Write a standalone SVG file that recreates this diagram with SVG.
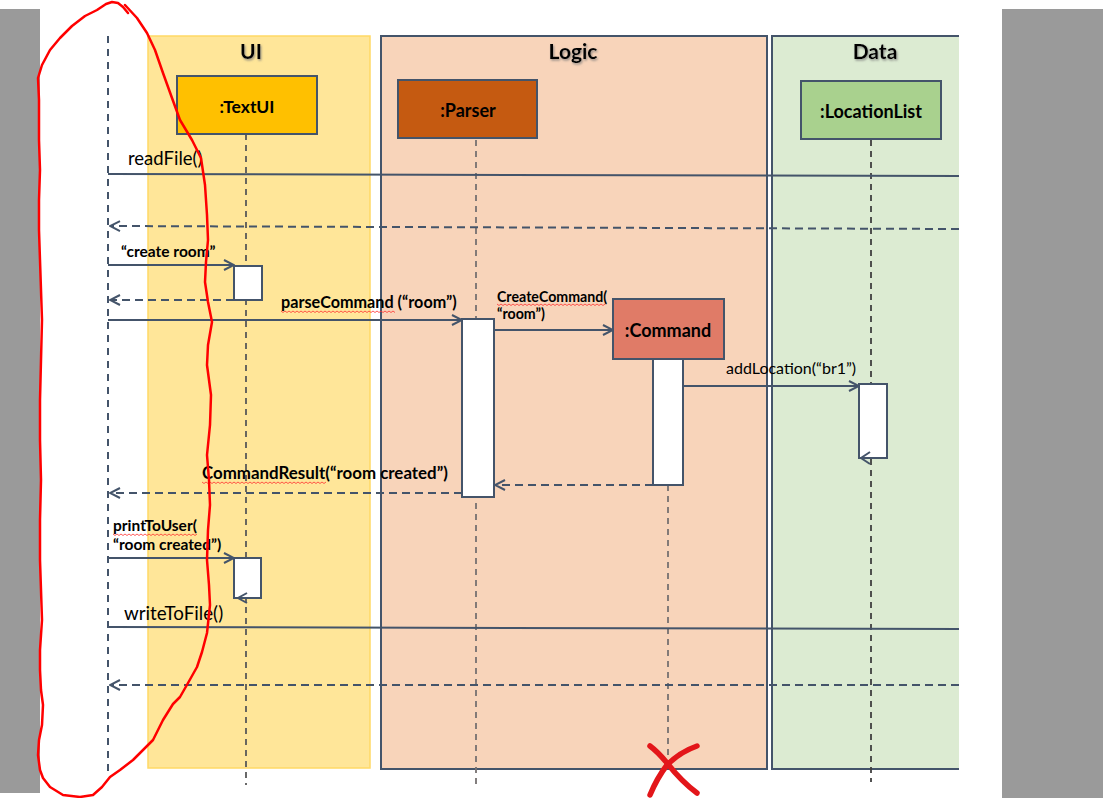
<svg xmlns="http://www.w3.org/2000/svg" width="1103" height="798" viewBox="0 0 1103 798">
<defs>
<style>
.t{font-family:Lato,"Open Sans","Liberation Sans",sans-serif;fill:#000}
.b{font-weight:bold}
.title{font-family:Lato,"Open Sans","Liberation Sans",sans-serif;font-weight:bold;font-size:21px;text-anchor:middle;fill:#000}
.obj{stroke:#44546A;stroke-width:2}
.msg{stroke:#44546A;stroke-width:2;fill:none}
.ret{stroke:#44546A;stroke-width:2;fill:none;stroke-dasharray:8 5}
.life{stroke:#595959;stroke-width:1.8;fill:none;stroke-dasharray:6 5}
.act{fill:#fff;stroke:#44546A;stroke-width:2}
.sq{stroke:#ff3030;stroke-width:0.8;fill:none}
.red{stroke:#ff0000;stroke-width:2.5;fill:none;stroke-linejoin:round;stroke-linecap:round}
</style>
<marker id="arr" viewBox="0 0 12 12" refX="11" refY="6" markerWidth="12" markerHeight="12" markerUnits="userSpaceOnUse" orient="auto">
<path d="M1,1 L11,6 L1,11" fill="none" stroke="#44546A" stroke-width="2"/>
</marker>
<filter id="sh" x="-20%" y="-20%" width="140%" height="140%">
<feDropShadow dx="1" dy="1.5" stdDeviation="1" flood-color="#777" flood-opacity="0.8"/>
</filter>
</defs>
<rect x="0" y="0" width="1103" height="798" fill="#fff"/>
<rect x="0" y="9" width="40" height="784" fill="#9a9a9a"/>
<rect x="1002" y="9" width="101" height="789" fill="#9a9a9a"/>

<g id="lane-ui">
<rect x="148" y="36" width="222" height="732" fill="#FFE699" stroke="#FFD966" stroke-width="1.5"/>
<text class="title" x="251" y="59" filter="url(#sh)">UI</text>
</g>
<g id="lane-logic">
<rect x="381" y="36" width="386" height="733" fill="#F8D4BA" stroke="#44546A" stroke-width="2"/>
<text class="title" x="573" y="59" filter="url(#sh)">Logic</text>
</g>
<g id="lane-data">
<rect x="772" y="36" width="187" height="733" fill="#DCEBD2"/>
<path d="M959,36 H772 V769 H959" fill="none" stroke="#44546A" stroke-width="2"/>
<text class="title" x="875" y="59" filter="url(#sh)">Data</text>
</g>

<g id="lifelines">
<line x1="108" y1="36" x2="108" y2="773" style="stroke:#44546A;stroke-width:2;stroke-dasharray:7 6"/>
<line x1="246" y1="134" x2="246" y2="785" class="life"/>
<line x1="476" y1="140" x2="476" y2="785" class="life" style="stroke:#767171"/>
<line x1="668" y1="485" x2="668" y2="767" class="life" style="stroke:#767171"/>
<line x1="871" y1="140" x2="871" y2="782" class="life" style="stroke:#404040"/>
</g>

<g id="textui">
<rect x="177" y="76" width="140" height="58" fill="#FFC000" class="obj"/>
<text class="t b" x="247" y="113" font-size="17.5" text-anchor="middle">:TextUI</text>
</g>
<g id="parser">
<rect x="398" y="80" width="139" height="58" fill="#C55A11" class="obj"/>
<text class="t b" x="468" y="117" font-size="18" text-anchor="middle">:Parser</text>
</g>
<g id="locationlist">
<rect x="801" y="81" width="140" height="58" fill="#A9D18E" class="obj"/>
<text class="t b" x="871" y="118" font-size="18" text-anchor="middle">:LocationList</text>
</g>
<g id="command">
<rect x="613" y="299" width="111" height="60" fill="#E07B67" class="obj"/>
<text class="t b" x="668" y="337" font-size="18" text-anchor="middle">:Command</text>
</g>

<g id="activations">
<rect x="234" y="266" width="28" height="34" class="act"/>
<rect x="462" y="319" width="32" height="178" class="act"/>
<rect x="653" y="359" width="30" height="126" class="act"/>
<rect x="859" y="384" width="28" height="74" class="act"/>
<rect x="234" y="558" width="27" height="40" class="act"/>
</g>

<g id="connectors">
<line x1="108" y1="174" x2="959" y2="176" class="msg"/>
<line x1="959" y1="229" x2="110" y2="226" class="ret" marker-end="url(#arr)"/>
<line x1="108" y1="265" x2="234" y2="265" class="msg" marker-end="url(#arr)"/>
<line x1="234" y1="300" x2="110" y2="300" class="ret" marker-end="url(#arr)"/>
<line x1="108" y1="320" x2="462" y2="320" class="msg" marker-end="url(#arr)"/>
<line x1="494" y1="330" x2="613" y2="330" class="msg" marker-end="url(#arr)"/>
<line x1="683" y1="386" x2="859" y2="386" class="msg" marker-end="url(#arr)"/>
<path d="M870,452 L861,458 L870,464" class="msg"/>
<line x1="653" y1="485" x2="495" y2="485" class="ret" marker-end="url(#arr)"/>
<line x1="462" y1="493" x2="110" y2="493" class="ret" marker-end="url(#arr)"/>
<line x1="108" y1="558" x2="234" y2="558" class="msg" marker-end="url(#arr)"/>
<path d="M247,593 L238,598 L247,603" class="msg"/>
<line x1="108" y1="627" x2="959" y2="629" class="msg"/>
<line x1="959" y1="685" x2="110" y2="685" class="ret" marker-end="url(#arr)"/>
</g>

<g id="labels">
<text class="t" x="128" y="165" font-size="18.5">readFile()</text>
<text class="t b" x="121" y="257" font-size="15.5">“create room”</text>
<text class="t b" x="281" y="308" font-size="16.2">parseCommand (“room”)</text>
<text class="t b" x="497" y="302" font-size="14.2">CreateCommand(</text>
<text class="t b" x="497" y="319" font-size="14.2">“room”)</text>
<text class="t" x="726" y="374" font-size="16">addLocation(“br1”)</text>
<text class="t b" x="202" y="479" font-size="16.9">CommandResult(“room created”)</text>
<text class="t b" x="113" y="531" font-size="15.5">printToUser(</text>
<text class="t b" x="113" y="550" font-size="15.5">“room created”)</text>
<text class="t" x="124" y="620" font-size="18.8">writeToFile()</text>
<path class="sq" d="M281,311 l2,1.5 l2,-1.5 l2,1.5 l2,-1.5 l2,1.5 l2,-1.5 l2,1.5 l2,-1.5 l2,1.5 l2,-1.5 l2,1.5 l2,-1.5 l2,1.5 l2,-1.5 l2,1.5 l2,-1.5 l2,1.5 l2,-1.5 l2,1.5 l2,-1.5 l2,1.5 l2,-1.5 l2,1.5 l2,-1.5 l2,1.5 l2,-1.5 l2,1.5 l2,-1.5 l2,1.5 l2,-1.5 l2,1.5 l2,-1.5 l2,1.5 l2,-1.5 l2,1.5 l2,-1.5 l2,1.5 l2,-1.5 l2,1.5 l2,-1.5 l2,1.5 l2,-1.5 l2,1.5 l2,-1.5 l2,1.5 l2,-1.5 l2,1.5 l2,-1.5 l2,1.5 l2,-1.5 l2,1.5 l2,-1.5 l2,1.5 l2,-1.5 l2,1.5 l2,-1.5 l2,1.5"/>
<path class="sq" d="M497,304 l2,1.5 l2,-1.5 l2,1.5 l2,-1.5 l2,1.5 l2,-1.5 l2,1.5 l2,-1.5 l2,1.5 l2,-1.5 l2,1.5 l2,-1.5 l2,1.5 l2,-1.5 l2,1.5 l2,-1.5 l2,1.5 l2,-1.5 l2,1.5 l2,-1.5 l2,1.5 l2,-1.5 l2,1.5 l2,-1.5 l2,1.5 l2,-1.5 l2,1.5 l2,-1.5 l2,1.5 l2,-1.5 l2,1.5 l2,-1.5 l2,1.5 l2,-1.5 l2,1.5 l2,-1.5 l2,1.5 l2,-1.5 l2,1.5 l2,-1.5 l2,1.5 l2,-1.5 l2,1.5 l2,-1.5 l2,1.5 l2,-1.5 l2,1.5 l2,-1.5 l2,1.5 l2,-1.5 l2,1.5 l2,-1.5 l2,1.5 l2,-1.5"/>
<path class="sq" d="M202,482 l2,1.5 l2,-1.5 l2,1.5 l2,-1.5 l2,1.5 l2,-1.5 l2,1.5 l2,-1.5 l2,1.5 l2,-1.5 l2,1.5 l2,-1.5 l2,1.5 l2,-1.5 l2,1.5 l2,-1.5 l2,1.5 l2,-1.5 l2,1.5 l2,-1.5 l2,1.5 l2,-1.5 l2,1.5 l2,-1.5 l2,1.5 l2,-1.5 l2,1.5 l2,-1.5 l2,1.5 l2,-1.5 l2,1.5 l2,-1.5 l2,1.5 l2,-1.5 l2,1.5 l2,-1.5 l2,1.5 l2,-1.5 l2,1.5 l2,-1.5 l2,1.5 l2,-1.5 l2,1.5 l2,-1.5 l2,1.5 l2,-1.5 l2,1.5 l2,-1.5 l2,1.5 l2,-1.5 l2,1.5 l2,-1.5 l2,1.5 l2,-1.5 l2,1.5 l2,-1.5 l2,1.5 l2,-1.5 l2,1.5 l2,-1.5 l2,1.5 l2,-1.5"/>
<path class="sq" d="M113,534 l2,1.5 l2,-1.5 l2,1.5 l2,-1.5 l2,1.5 l2,-1.5 l2,1.5 l2,-1.5 l2,1.5 l2,-1.5 l2,1.5 l2,-1.5 l2,1.5 l2,-1.5 l2,1.5 l2,-1.5 l2,1.5 l2,-1.5 l2,1.5 l2,-1.5 l2,1.5 l2,-1.5 l2,1.5 l2,-1.5 l2,1.5 l2,-1.5 l2,1.5 l2,-1.5 l2,1.5 l2,-1.5 l2,1.5 l2,-1.5 l2,1.5 l2,-1.5 l2,1.5 l2,-1.5 l2,1.5 l2,-1.5 l2,1.5 l2,-1.5 l2,1.5 l2,-1.5"/>
</g>

<g id="annotations">
<path class="red" d="M125,5 L137,18 L147,33 L155,50 L163,73 L172,98 L180,120 L192,140 L201,158 L205,185 L207,215 L208,240 L206,262 L205,282 L208,302 L212,322 L208,345 L207,365 L211,395 L210,425 L207,455 L209,480 L210,505 L208,530 L207,560 L209,585 L210,605 L207,633 L202,652 L197,667 L188,683 L180,697 L173,704 L163,720 L153,740 L143,750 L133,760 L120,770 L110,777 L102,787 L93,795 L80,797 L63,795 L50,787 L43,778 L40,770 L38,755 L39,740 L42,725 L43,705 L41,690 L40,670 L40,650 L42,620 L41,590 L40,560 L40,520 L41,480 L40,440 L40,400 L41,360 L42,320 L41,290 L40,260 L39,230 L39,200 L40,170 L39,140 L39,100 L38,78 L42,65 L50,50 L60,38 L72,26 L85,16 L97,10 L106,4 L112,2 L118,3 L123,7 L128,13"/>
<path d="M650,746 Q658,752 667,763 Q682,782 697,793" stroke="#E3161A" stroke-width="5.5" fill="none" stroke-linecap="round"/>
<path d="M697,746 Q680,752 667,765 Q657,778 650,795" stroke="#E3161A" stroke-width="5.5" fill="none" stroke-linecap="round"/>
</g>
</svg>
